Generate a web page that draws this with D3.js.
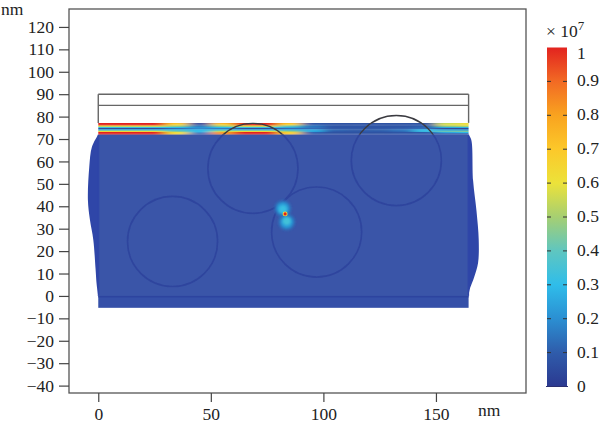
<!DOCTYPE html>
<html>
<head>
<meta charset="utf-8">
<script src="https://cdn.jsdelivr.net/npm/d3@7"></script>
<style>
  html, body { margin: 0; background: #fff; }
  svg { display: block; }
  text { font-family: "Liberation Serif", serif; font-size: 17.5px; fill: #222; }
</style>
</head>
<body>
<svg width="600" height="428"></svg>
<script>
const xTicks = [0, 50, 100, 150];
const yTicks = [120, 110, 100, 90, 80, 70, 60, 50, 40, 30, 20, 10, 0, -10, -20, -30, -40];
const colorTicks = [0, 0.1, 0.2, 0.3, 0.4, 0.5, 0.6, 0.7, 0.8, 0.9, 1];

const colorValues = [0, 0.1, 0.2, 0.3, 0.4, 0.5, 0.6, 0.7, 0.8, 0.9, 1];
const colorHexes = ["#2b3990", "#2f5cab", "#2b8fd2", "#2fbdea", "#5fc6c0", "#a6cf72", "#ece23a", "#fcc82a", "#f9a31f", "#f26a24", "#e2231f"];

// particles: x, y, radius in nm
const circles = [[33, 24.3, 20], [68.7, 56.9, 20], [97, 28.5, 20], [132.4, 60.4, 20]];

// bulges of the deformed film, nm
const leftEdge = [[0, 72], [-2.8, 66.5], [-4, 57.5], [-4.6, 42.8], [-3.7, 34], [-2.2, 25], [-1.2, 12], [-0.7, 5], [0, 0]];
const rightEdge = [[164.5, 72], [165.7, 69.6], [166.5, 51.5], [168, 38], [169, 25], [168.7, 14.7], [167, 8.5], [165.2, 3.6], [164.5, 0]];

// field in the thin layer: one row per band (top to bottom), one column per stripeX
const stripeX = [0, 10, 20, 30, 40, 50, 60, 70, 80, 90, 100, 110, 120, 130, 140, 150, 160];
const stripeField = [
  [1, 1, 1, 0.72, 0.06, 0.75, 1, 1, 0.72, 0.08, 0.07, 0.07, 0.07, 0.07, 0.07, 0.55, 0.62],
  [1, 1, 1, 0.65, 0.08, 0.65, 0.98, 1, 0.65, 0.1, 0.07, 0.07, 0.07, 0.07, 0.08, 0.58, 0.62],
  [0.6, 0.6, 0.6, 0.5, 0.16, 0.5, 0.6, 0.62, 0.42, 0.15, 0.08, 0.08, 0.08, 0.08, 0.1, 0.5, 0.55],
  [0.32, 0.32, 0.32, 0.3, 0.2, 0.3, 0.32, 0.32, 0.26, 0.15, 0.08, 0.08, 0.08, 0.09, 0.12, 0.26, 0.28],
  [0.03, 0.03, 0.03, 0.12, 0.18, 0.15, 0.03, 0.03, 0.12, 0.12, 0.08, 0.08, 0.08, 0.1, 0.12, 0.03, 0.02],
  [0.3, 0.3, 0.3, 0.3, 0.28, 0.32, 0.3, 0.3, 0.28, 0.26, 0.12, 0.1, 0.11, 0.15, 0.3, 0.24, 0.22],
  [0.6, 0.6, 0.6, 0.45, 0.3, 0.55, 0.6, 0.6, 0.5, 0.26, 0.1, 0.09, 0.1, 0.13, 0.32, 0.42, 0.45],
  [1, 1, 1, 0.6, 0.22, 0.8, 1, 1, 0.65, 0.12, 0.07, 0.07, 0.07, 0.08, 0.1, 0.25, 0.3],
  [1, 1, 1, 0.65, 0.12, 0.85, 1, 1, 0.7, 0.08, 0.07, 0.07, 0.07, 0.08, 0.08, 0.1, 0.1]
];
const stripeTop = 77.2;
const stripeBottom = 72;

// hot spot between two particles: x, y, radius, field
const hotSpots = [
  [82, 39, 3.8, 0.14], [83.7, 33, 3.8, 0.14],
  [82, 39, 2.7, 0.23], [83.7, 33, 2.7, 0.23],
  [82, 38.6, 1.7, 0.32], [83.7, 33.4, 1.7, 0.34]
];
const hotCore = [[83, 36.6, 1.1, 0.6], [83, 36.6, 0.7, 1]];

const layerLines = [90, 85];
const layerLeft = 0;
const layerRight = 164.5;

const svg = d3.select("svg");

const x = d3.scaleLinear().domain([-13, 190]).range([69, 526]);
const y = d3.scaleLinear().domain([-43.3, 128]).range([393, 9]);
const color = d3.scaleLinear().domain(colorValues).range(colorHexes);
const cy = d3.scaleLinear().domain([0, 1]).range([386.5, 47.5]);

const defs = svg.append("defs");
const blur = (id, dev) => defs.append("filter").attr("id", id).attr("filterUnits", "userSpaceOnUse")
  .attr("x", 0).attr("y", 0).attr("width", 600).attr("height", 428)
  .append("feGaussianBlur").attr("stdDeviation", dev);
blur("soft", "6 0.3");
blur("soft2", 0.9);
blur("soft3", 0.6);
blur("soft4", 0.35);
defs.append("clipPath").attr("id", "stripeClip").append("rect")
  .attr("x", x(layerLeft)).attr("y", y(stripeTop))
  .attr("width", x(layerRight) - x(layerLeft)).attr("height", y(stripeBottom) - y(stripeTop));
defs.append("clipPath").attr("id", "aboveClip").append("rect")
  .attr("x", x(-10)).attr("y", y(100))
  .attr("width", x(180) - x(-10)).attr("height", y(72) - y(100));
defs.append("clipPath").attr("id", "belowClip").append("rect")
  .attr("x", x(-10)).attr("y", y(72))
  .attr("width", x(180) - x(-10)).attr("height", y(-10) - y(72));

const grad = defs.append("linearGradient").attr("id", "bar")
  .attr("x1", 0).attr("y1", 1).attr("x2", 0).attr("y2", 0);
grad.selectAll("stop").data(colorValues).enter().append("stop")
  .attr("offset", d => d)
  .attr("stop-color", d => color(d));

// film
const edge = d3.line().x(d => x(d[0])).y(d => y(d[1])).curve(d3.curveCatmullRom);
svg.selectAll(".bulge").data([leftEdge, rightEdge]).enter().append("path")
  .attr("class", "bulge")
  .attr("d", d => edge(d) + "Z")
  .attr("fill", "#2f46a8");
svg.append("rect")
  .attr("x", x(layerLeft) - 0.5).attr("y", y(stripeBottom))
  .attr("width", x(layerRight) - x(layerLeft) + 1).attr("height", y(0) - y(stripeBottom))
  .attr("fill", "#2f46a8");
svg.append("rect")
  .attr("x", x(layerLeft) + 1).attr("y", y(stripeBottom))
  .attr("width", x(layerRight) - x(layerLeft) - 2).attr("height", y(0) - y(stripeBottom))
  .attr("fill", "#3a55a8");
svg.append("rect")
  .attr("x", x(layerLeft)).attr("y", y(0))
  .attr("width", x(layerRight) - x(layerLeft)).attr("height", y(-5.3) - y(0))
  .attr("fill", "#3550a8");
svg.append("line")
  .attr("x1", x(layerLeft)).attr("x2", x(layerRight)).attr("y1", y(-0.4)).attr("y2", y(-0.4))
  .attr("stroke", "#2d449f").attr("stroke-width", 1.5);

// thin layer field
const rowHeight = (stripeTop - stripeBottom) / stripeField.length;
const cells = stripeField.flatMap((row, i) => row.map((v, j) => ({ i, j, v })));
svg.append("g").attr("clip-path", "url(#stripeClip)")
  .append("g").attr("filter", "url(#soft)")
  .selectAll("rect").data(cells).enter().append("rect")
  .attr("x", d => x(stripeX[d.j] - (d.j === 0 ? 20 : 0)))
  .attr("y", d => y(stripeTop - d.i * rowHeight))
  .attr("width", d => x(10 + (d.j === 0 || d.j === stripeX.length - 1 ? 20 : 0)) - x(0) + 0.5)
  .attr("height", y(0) - y(rowHeight) + 0.3)
  .attr("fill", d => color(d.v));

// particles
const drawCircles = (clip, stroke, width) => svg.append("g").attr("clip-path", `url(#${clip})`)
  .append("g").attr("filter", "url(#soft3)")
  .selectAll("circle").data(circles).enter().append("circle")
  .attr("cx", d => x(d[0])).attr("cy", d => y(d[1]))
  .attr("r", d => x(d[2]) - x(0))
  .attr("fill", "none").attr("stroke", stroke).attr("stroke-width", width);
drawCircles("belowClip", "#2f459e", 1.7);
drawCircles("aboveClip", "#3a3a40", 1.3);

// hot spot
const drawSpots = (spots, filter) => svg.append("g").attr("filter", `url(#${filter})`)
  .selectAll("circle").data(spots).enter().append("circle")
  .attr("cx", d => x(d[0])).attr("cy", d => y(d[1]))
  .attr("r", d => x(d[2]) - x(0))
  .attr("fill", d => color(d[3]));
drawSpots(hotSpots, "soft2");
drawSpots(hotCore, "soft4");

// layers above the film
svg.selectAll(".layer").data(layerLines).enter().append("line")
  .attr("class", "layer")
  .attr("x1", x(layerLeft)).attr("x2", x(layerRight))
  .attr("y1", d => y(d)).attr("y2", d => y(d))
  .attr("stroke", "#666").attr("stroke-width", 1.4);
[layerLeft, layerRight].forEach(v => {
  svg.append("line")
    .attr("x1", x(v)).attr("x2", x(v)).attr("y1", y(90)).attr("y2", y(stripeTop))
    .attr("stroke", "#666").attr("stroke-width", 1.4);
});

// frame and axes
svg.append("rect")
  .attr("x", x.range()[0]).attr("y", y.range()[1])
  .attr("width", x.range()[1] - x.range()[0]).attr("height", y.range()[0] - y.range()[1])
  .attr("fill", "none").attr("stroke", "#555").attr("stroke-width", 1.3);

const fmt = d => String(d).replace("-", "\u2212");

const xAxis = svg.append("g").attr("transform", `translate(0,${y.range()[0]})`)
  .call(d3.axisBottom(x).tickValues(xTicks).tickSize(9).tickPadding(6).tickFormat(fmt));
const yAxis = svg.append("g").attr("transform", `translate(${x.range()[0]},0)`)
  .call(d3.axisLeft(y).tickValues(yTicks).tickSize(10).tickPadding(5).tickFormat(fmt));
[xAxis, yAxis].forEach(a => {
  a.select(".domain").remove();
  a.selectAll("line").attr("stroke", "#444").attr("stroke-width", 1.2);
  a.selectAll("text").style("font-family", '"Liberation Serif", serif').style("font-size", "17.5px").attr("fill", "#222");
});

svg.append("text").attr("x", 1).attr("y", 15).text("nm");
svg.append("text").attr("x", 478).attr("y", 416).text("nm");

// colour bar
svg.append("rect")
  .attr("x", 547).attr("y", cy(1))
  .attr("width", 20).attr("height", cy(0) - cy(1))
  .attr("fill", "url(#bar)");
svg.append("line").attr("x1", 546).attr("x2", 568).attr("y1", cy(0)).attr("y2", cy(0))
  .attr("stroke", "#2b2f70").attr("stroke-width", 1);
const inner = colorTicks.filter(d => d > 0 && d < 1);
svg.selectAll(".tl").data(inner).enter().append("line").attr("class", "tl")
  .attr("x1", 547).attr("x2", 551).attr("y1", d => cy(d)).attr("y2", d => cy(d)).attr("stroke", "#333");
svg.selectAll(".tr").data(inner).enter().append("line").attr("class", "tr")
  .attr("x1", 563).attr("x2", 567).attr("y1", d => cy(d)).attr("y2", d => cy(d)).attr("stroke", "#333");
svg.selectAll(".cl").data(colorTicks).enter().append("text").attr("class", "cl")
  .attr("x", 577)
  .attr("y", d => cy(d) + (d === 1 ? 11 : 5))
  .text(d => d);

const expo = svg.append("text").attr("x", 546).attr("y", 37);
expo.append("tspan").text("\u00d7 10");
expo.append("tspan").attr("dy", -7).style("font-size", "13px").text("7");
</script>
</body>
</html>
